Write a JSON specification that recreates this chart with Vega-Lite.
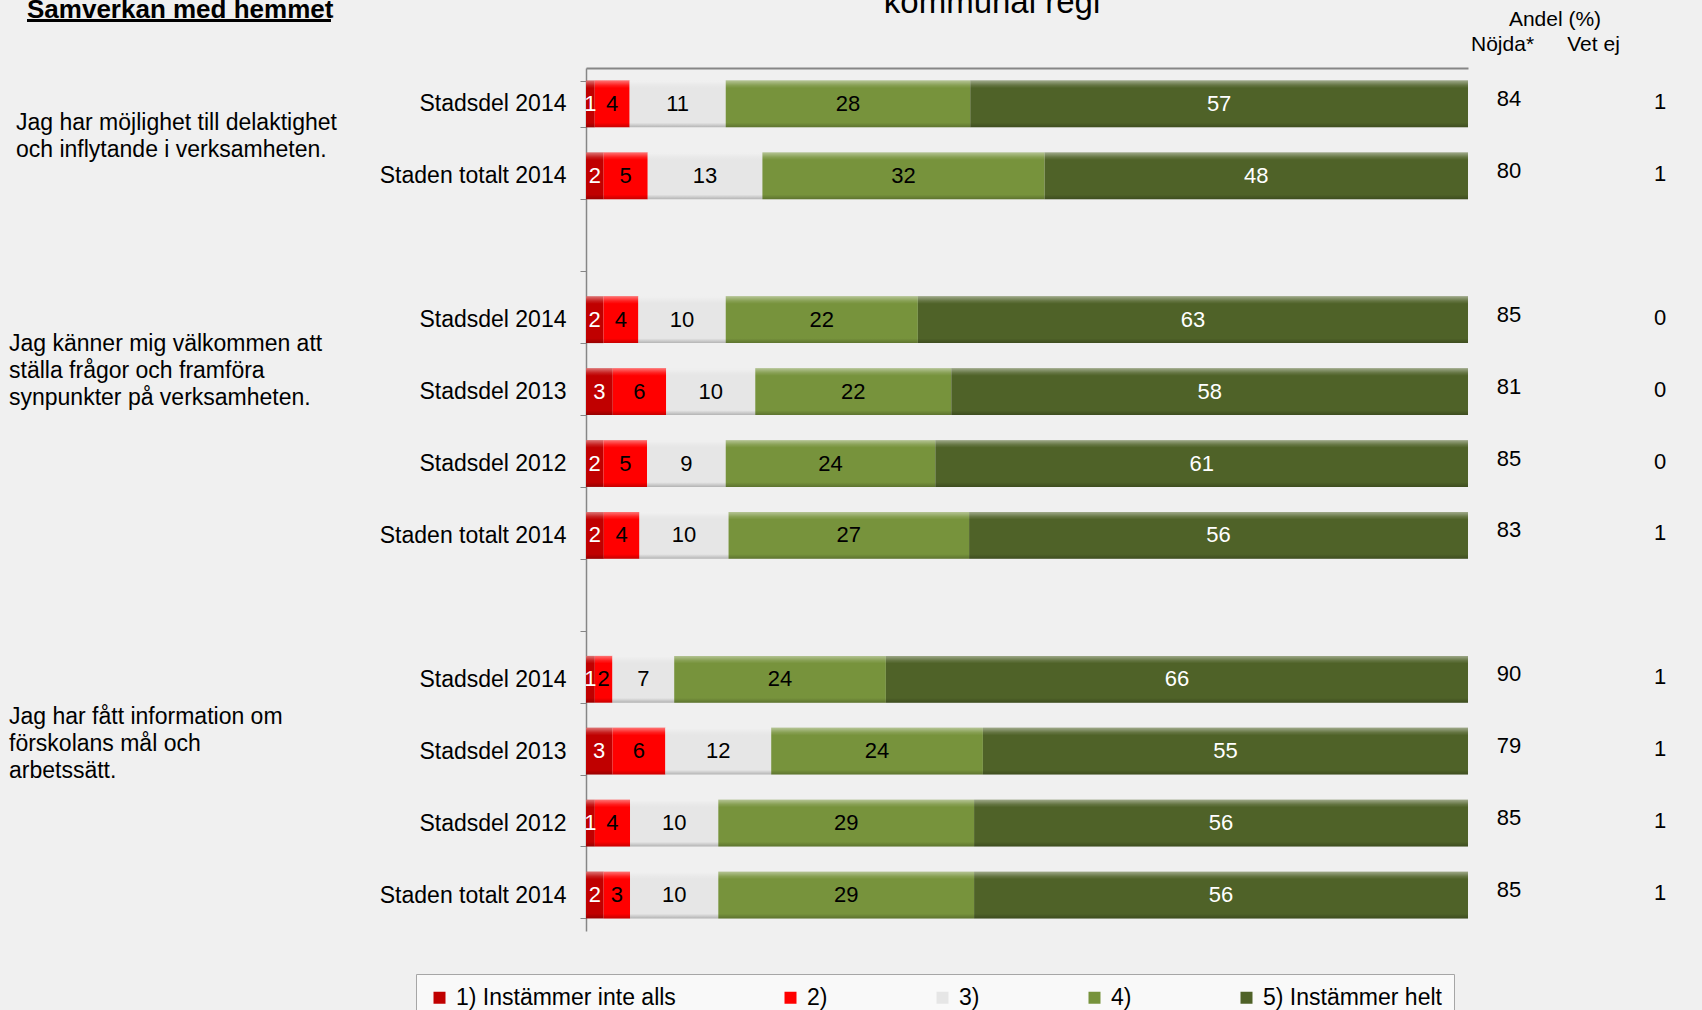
{
  "$schema": "https://vega.github.io/schema/vega-lite/v6.json",
  "background": "#F0F0F0",
  "padding": {"left": 9, "top": -13, "right": 40, "bottom": 0},
  "bounds": "flush",
  "spacing": 0,
  "config": {"font": "Liberation Sans", "view": {"stroke": null}, "text": {"color": "black"}},
  "datasets": {
    "ratings": [
      {"row": "1|Stadsdel 2014", "cat": "1) Instämmer inte alls", "v": 1},
      {"row": "1|Stadsdel 2014", "cat": "2)", "v": 4},
      {"row": "1|Stadsdel 2014", "cat": "3)", "v": 11},
      {"row": "1|Stadsdel 2014", "cat": "4)", "v": 28},
      {"row": "1|Stadsdel 2014", "cat": "5) Instämmer helt", "v": 57},
      {"row": "1|Staden totalt 2014", "cat": "1) Instämmer inte alls", "v": 2},
      {"row": "1|Staden totalt 2014", "cat": "2)", "v": 5},
      {"row": "1|Staden totalt 2014", "cat": "3)", "v": 13},
      {"row": "1|Staden totalt 2014", "cat": "4)", "v": 32},
      {"row": "1|Staden totalt 2014", "cat": "5) Instämmer helt", "v": 48},
      {"row": "2|Stadsdel 2014", "cat": "1) Instämmer inte alls", "v": 2},
      {"row": "2|Stadsdel 2014", "cat": "2)", "v": 4},
      {"row": "2|Stadsdel 2014", "cat": "3)", "v": 10},
      {"row": "2|Stadsdel 2014", "cat": "4)", "v": 22},
      {"row": "2|Stadsdel 2014", "cat": "5) Instämmer helt", "v": 63},
      {"row": "2|Stadsdel 2013", "cat": "1) Instämmer inte alls", "v": 3},
      {"row": "2|Stadsdel 2013", "cat": "2)", "v": 6},
      {"row": "2|Stadsdel 2013", "cat": "3)", "v": 10},
      {"row": "2|Stadsdel 2013", "cat": "4)", "v": 22},
      {"row": "2|Stadsdel 2013", "cat": "5) Instämmer helt", "v": 58},
      {"row": "2|Stadsdel 2012", "cat": "1) Instämmer inte alls", "v": 2},
      {"row": "2|Stadsdel 2012", "cat": "2)", "v": 5},
      {"row": "2|Stadsdel 2012", "cat": "3)", "v": 9},
      {"row": "2|Stadsdel 2012", "cat": "4)", "v": 24},
      {"row": "2|Stadsdel 2012", "cat": "5) Instämmer helt", "v": 61},
      {"row": "2|Staden totalt 2014", "cat": "1) Instämmer inte alls", "v": 2},
      {"row": "2|Staden totalt 2014", "cat": "2)", "v": 4},
      {"row": "2|Staden totalt 2014", "cat": "3)", "v": 10},
      {"row": "2|Staden totalt 2014", "cat": "4)", "v": 27},
      {"row": "2|Staden totalt 2014", "cat": "5) Instämmer helt", "v": 56},
      {"row": "3|Stadsdel 2014", "cat": "1) Instämmer inte alls", "v": 1},
      {"row": "3|Stadsdel 2014", "cat": "2)", "v": 2},
      {"row": "3|Stadsdel 2014", "cat": "3)", "v": 7},
      {"row": "3|Stadsdel 2014", "cat": "4)", "v": 24},
      {"row": "3|Stadsdel 2014", "cat": "5) Instämmer helt", "v": 66},
      {"row": "3|Stadsdel 2013", "cat": "1) Instämmer inte alls", "v": 3},
      {"row": "3|Stadsdel 2013", "cat": "2)", "v": 6},
      {"row": "3|Stadsdel 2013", "cat": "3)", "v": 12},
      {"row": "3|Stadsdel 2013", "cat": "4)", "v": 24},
      {"row": "3|Stadsdel 2013", "cat": "5) Instämmer helt", "v": 55},
      {"row": "3|Stadsdel 2012", "cat": "1) Instämmer inte alls", "v": 1},
      {"row": "3|Stadsdel 2012", "cat": "2)", "v": 4},
      {"row": "3|Stadsdel 2012", "cat": "3)", "v": 10},
      {"row": "3|Stadsdel 2012", "cat": "4)", "v": 29},
      {"row": "3|Stadsdel 2012", "cat": "5) Instämmer helt", "v": 56},
      {"row": "3|Staden totalt 2014", "cat": "1) Instämmer inte alls", "v": 2},
      {"row": "3|Staden totalt 2014", "cat": "2)", "v": 3},
      {"row": "3|Staden totalt 2014", "cat": "3)", "v": 10},
      {"row": "3|Staden totalt 2014", "cat": "4)", "v": 29},
      {"row": "3|Staden totalt 2014", "cat": "5) Instämmer helt", "v": 56}
    ],
    "summary": [
      {"row": "1|Stadsdel 2014", "nojda": 84, "vetej": 1},
      {"row": "1|Staden totalt 2014", "nojda": 80, "vetej": 1},
      {"row": "2|Stadsdel 2014", "nojda": 85, "vetej": 0},
      {"row": "2|Stadsdel 2013", "nojda": 81, "vetej": 0},
      {"row": "2|Stadsdel 2012", "nojda": 85, "vetej": 0},
      {"row": "2|Staden totalt 2014", "nojda": 83, "vetej": 1},
      {"row": "3|Stadsdel 2014", "nojda": 90, "vetej": 1},
      {"row": "3|Stadsdel 2013", "nojda": 79, "vetej": 1},
      {"row": "3|Stadsdel 2012", "nojda": 85, "vetej": 1},
      {"row": "3|Staden totalt 2014", "nojda": 85, "vetej": 1}
    ],
    "groups": [
      {"grp": 1, "row": "1|Stadsdel 2014", "label": "Jag har möjlighet till delaktighet\noch inflytande i verksamheten."},
      {"grp": 2, "row": "2|Stadsdel 2014", "label": "Jag känner mig välkommen att\nställa frågor och framföra\nsynpunkter på verksamheten."},
      {"grp": 3, "row": "3|Stadsdel 2014", "label": "Jag har fått information om\nförskolans mål och\narbetssätt."}
    ]
  },
  "hconcat": [
    {
      "width": 577,
      "height": 863,
      "title": {"text": "Samverkan med hemmet", "anchor": "start", "fontSize": 26, "fontWeight": "bold", "color": "black", "dx": 18, "offset": -24.5, "baseline": "alphabetic", "frame": "group"},
      "data": {"name": "groups"},
      "encoding": {
        "y": {"field": "row", "type": "nominal", "axis": null,
          "scale": {"domain": ["1|Stadsdel 2014", "1|Staden totalt 2014", "gap1|", "2|Stadsdel 2014", "2|Stadsdel 2013", "2|Stadsdel 2012", "2|Staden totalt 2014", "gap2|", "3|Stadsdel 2014", "3|Stadsdel 2013", "3|Stadsdel 2012", "3|Staden totalt 2014"], "paddingInner": 0.35, "paddingOuter": 0.175}},
        "x": {"datum": 0, "type": "quantitative", "scale": {"domain": [0, 1]}, "axis": null}
      },
      "layer": [
        {"transform": [{"filter": "datum.grp == 1"}], "mark": {"type": "text", "align": "left", "baseline": "middle", "fontSize": 23, "lineHeight": 27, "lineBreak": "\n", "dx": 7, "dy": 19}, "encoding": {"text": {"field": "label"}}},
        {"transform": [{"filter": "datum.grp == 2"}], "mark": {"type": "text", "align": "left", "baseline": "middle", "fontSize": 23, "lineHeight": 27, "lineBreak": "\n", "dy": 24}, "encoding": {"text": {"field": "label"}}},
        {"transform": [{"filter": "datum.grp == 3"}], "mark": {"type": "text", "align": "left", "baseline": "middle", "fontSize": 23, "lineHeight": 27, "lineBreak": "\n", "dy": 38}, "encoding": {"text": {"field": "label"}}},
        {"transform": [{"filter": "datum.grp == 1"}], "mark": {"type": "rule", "strokeWidth": 3, "color": "black"},
          "encoding": {
            "x": {"datum": 0.0312, "type": "quantitative"},
            "x2": {"datum": 0.558},
            "y": {"datum": "1|Stadsdel 2014", "type": "nominal", "bandPosition": -1.285}
          }}
      ]
    },
    {
      "width": 882,
      "height": 863,
      "title": {"text": "kommunal regi", "anchor": "middle", "fontSize": 33, "fontWeight": "normal", "color": "black", "dx": -35, "offset": 11, "baseline": "alphabetic", "frame": "group"},
      "data": {"name": "ratings"},
      "encoding": {
        "y": {"field": "row", "type": "nominal",
          "scale": {"domain": ["1|Stadsdel 2014", "1|Staden totalt 2014", "gap1|", "2|Stadsdel 2014", "2|Stadsdel 2013", "2|Stadsdel 2012", "2|Staden totalt 2014", "gap2|", "3|Stadsdel 2014", "3|Stadsdel 2013", "3|Stadsdel 2012", "3|Staden totalt 2014"], "paddingInner": 0.35, "paddingOuter": 0.175},
          "axis": {"title": null, "labelExpr": "split(datum.value, '|')[1]", "labelFontSize": 23, "labelColor": "black", "labelPadding": 14, "tickSize": 6, "tickBand": "extent", "domainColor": "#868686", "tickColor": "#868686", "domainWidth": 1.5, "labelLimit": 400, "grid": false}}
      },
      "layer": [
        {
          "mark": {"type": "bar"},
          "encoding": {
            "x": {"field": "v", "type": "quantitative", "stack": "normalize",
              "axis": {"orient": "top", "labels": false, "ticks": false, "grid": false, "title": null, "domainColor": "#868686", "domainWidth": 2}},
            "color": {"field": "cat", "type": "nominal",
              "scale": {"domain": ["1) Instämmer inte alls", "2)", "3)", "4)", "5) Instämmer helt"], "range": ["#C00000", "#FF0000", "#E6E6E6", "#77933C", "#4F6228"]},
              "legend": {"orient": "none", "legendX": 407, "legendY": 906, "direction": "horizontal", "columns": 5, "title": null, "symbolType": "square", "symbolSize": 144, "symbolStrokeWidth": 0, "symbolOpacity": 1, "labelFontSize": 23, "labelColor": "black", "labelOffset": 5, "labelLimit": 400, "columnPadding": 103, "padding": 12, "strokeColor": "#A6A6A6", "fillColor": "#F9F9F9"}},
            "order": {"field": "cat", "type": "ordinal", "sort": "ascending"}
          }
        },
        {
          "mark": {"type": "bar", "fill": {"gradient": "linear", "x1": 0, "y1": 0, "x2": 0, "y2": 1, "stops": [{"offset": 0, "color": "rgba(255,255,255,0.45)"}, {"offset": 0.1, "color": "rgba(255,255,255,0.12)"}, {"offset": 0.16, "color": "rgba(255,255,255,0)"}, {"offset": 0.9, "color": "rgba(0,0,0,0)"}, {"offset": 1, "color": "rgba(0,0,0,0.22)"}]}},
          "encoding": {
            "x": {"field": "v", "type": "quantitative", "stack": "normalize"},
            "detail": {"field": "cat", "type": "nominal"},
            "order": {"field": "cat", "type": "ordinal", "sort": "ascending"}
          }
        },
        {
          "mark": {"type": "text", "fontSize": 22, "baseline": "middle"},
          "encoding": {
            "x": {"field": "v", "type": "quantitative", "stack": "normalize", "bandPosition": 0.5},
            "detail": {"field": "cat", "type": "nominal"},
            "order": {"field": "cat", "type": "ordinal", "sort": "ascending"},
            "text": {"field": "v", "type": "quantitative"},
            "color": {"condition": {"test": "datum.cat == '1) Instämmer inte alls' || datum.cat == '5) Instämmer helt'", "value": "white"}, "value": "black"}
          }
        }
      ]
    },
    {
      "width": 173,
      "height": 863,
      "data": {"name": "summary"},
      "encoding": {
        "y": {"field": "row", "type": "nominal", "axis": null,
          "scale": {"domain": ["1|Stadsdel 2014", "1|Staden totalt 2014", "gap1|", "2|Stadsdel 2014", "2|Stadsdel 2013", "2|Stadsdel 2012", "2|Staden totalt 2014", "gap2|", "3|Stadsdel 2014", "3|Stadsdel 2013", "3|Stadsdel 2012", "3|Staden totalt 2014"], "paddingInner": 0.35, "paddingOuter": 0.175}}
      },
      "layer": [
        {
          "mark": {"type": "text", "fontSize": 22, "dx": 7, "dy": -5},
          "encoding": {
            "x": {"datum": "Nöjda*", "type": "nominal",
              "scale": {"type": "point", "domain": ["Nöjda*", "Vet ej"], "padding": 0.4505, "align": 0.415},
              "axis": {"orient": "top", "title": "Andel (%)", "titleFontSize": 21, "titleFontWeight": "normal", "titleColor": "black", "labelFontSize": 21, "labelColor": "black", "labelAngle": 0, "ticks": false, "domain": false, "grid": false, "labelPadding": 14, "titlePadding": 4}},
            "text": {"field": "nojda", "type": "quantitative"}
          }
        },
        {
          "mark": {"type": "text", "fontSize": 22, "dx": 67, "dy": -2},
          "encoding": {
            "x": {"datum": "Vet ej", "type": "nominal"},
            "text": {"field": "vetej", "type": "quantitative"}
          }
        }
      ]
    }
  ]
}
